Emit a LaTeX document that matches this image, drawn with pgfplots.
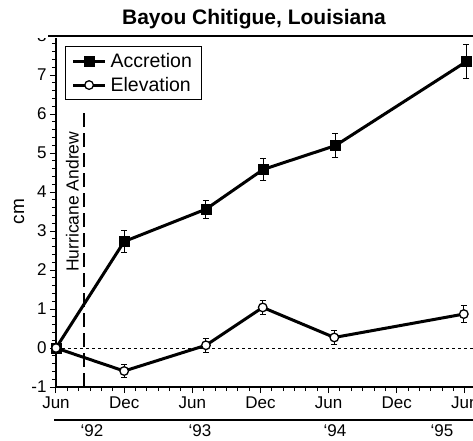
\documentclass[border=0pt]{standalone}
\usepackage{pgfplots}
\pgfplotsset{compat=1.18}
\usepackage{fontspec}
\setmainfont{Liberation Sans}
\begin{document}
\begin{tikzpicture}
\begin{axis}[
  at={(0pt,0pt)}, anchor=south west,
  scale only axis,
  width=420.3pt, height=351pt,
  xmin=0, xmax=37, ymin=-1, ymax=8,
  axis lines*=left,
  axis line style={line width=1.5pt},
  tick align=outside,
  major tick length=6pt, minor tick length=4pt,
  every tick/.style={black, line width=1pt},
  xtick={0,6,12,18,24,30,36},
  xticklabels={Jun,Dec,Jun,Dec,Jun,Dec,Jun},
  minor x tick num=5,
  ytick={-1,0,...,8},
  minor y tick num=4,
  tick label style={font=\fontsize{17}{20}\selectfont},
  /pgf/number format/assume math mode=true,
  clip=false,
  legend style={at={(0.0214,0.9715)}, anchor=north west, draw=black, line width=1.2pt,
    font=\fontsize{19.5}{23}\selectfont, row sep=4pt, inner xsep=6pt, inner ysep=5pt,
    nodes={inner xsep=4pt}},
  legend cell align=left,
  legend image code/.code={\draw[#1, mark repeat=2, mark phase=2] plot coordinates {(0pt,0pt) (16pt,0pt) (32pt,0pt)};},
]
\draw[line width=1pt, dash pattern=on 3pt off 3pt] (axis cs:0,0) -- (axis cs:37,0);
\draw[line width=1.3pt, dash pattern=on 14pt off 6pt] (axis cs:2.46,-1) -- (axis cs:2.46,6.03);
\node[rotate=90, font=\fontsize{17.5}{20}\selectfont] at (axis cs:1.45,3.75) {Hurricane Andrew};
\addplot[black, line width=3pt, mark=square*, mark size=5pt,
  mark options={line width=0.5pt, fill=black},
  error bars/.cd, y dir=both, y explicit,
  error bar style={line width=1pt},
  error mark options={rotate=90, mark size=3pt, line width=1pt}]
  table[x=x, y=y, y error=e] {
x y e
0 0 0
6.0 2.73 0.29
13.2 3.56 0.23
18.25 4.58 0.28
24.6 5.19 0.31
36.1 7.34 0.44
};
\addlegendentry{Accretion}
\addplot[black, line width=3pt, mark=*, mark size=4.3pt,
  mark options={line width=1.3pt, fill=white},
  error bars/.cd, y dir=both, y explicit,
  error bar style={line width=1pt},
  error mark options={rotate=90, mark size=3pt, line width=1pt}]
  table[x=x, y=y, y error=e] {
x y e
0 0 0
6.0 -0.59 0.16
13.2 0.07 0.18
18.2 1.04 0.19
24.5 0.27 0.19
35.9 0.87 0.21
};
\addlegendentry{Elevation}
\end{axis}
% cover above plot, title and rules
\fill[white] (-56pt,349pt) rectangle (417pt,387pt);
\draw[line width=2.5pt] (-8pt,351pt) -- (420pt,351pt);
\node[anchor=base, font=\fontsize{21}{24}\selectfont\bfseries] at (198pt,362pt) {Bayou Chitigue, Louisiana};
\node[rotate=90, font=\fontsize{19}{22}\selectfont] at (-37pt,175.5pt) {cm};
\draw[line width=2pt] (-2pt,-33pt) -- (420pt,-33pt);
\node[anchor=base, font=\fontsize{17}{20}\selectfont] at (36pt,-49pt) {‘92};
\node[anchor=base, font=\fontsize{17}{20}\selectfont] at (144pt,-49pt) {‘93};
\node[anchor=base, font=\fontsize{17}{20}\selectfont] at (279pt,-49pt) {‘94};
\node[anchor=base, font=\fontsize{17}{20}\selectfont] at (386pt,-49pt) {‘95};
\pgfresetboundingbox
\path[use as bounding box] (-56pt,-53pt) rectangle (417pt,387pt);
\end{tikzpicture}
\end{document}
